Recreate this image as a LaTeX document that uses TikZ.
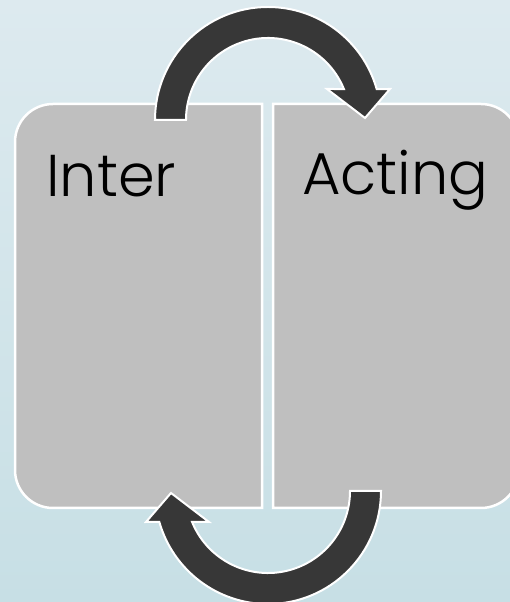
\documentclass[tikz,border=0pt]{standalone}
\usepackage{fontspec}
\setmainfont{Poppins}[UprightFont=* Light]
\usepackage{xcolor}
\usepackage{tikz}
\usetikzlibrary{calc}
\definecolor{skytop}{RGB}{221,234,239}
\definecolor{skybot}{RGB}{199,223,229}
\definecolor{boxgray}{RGB}{191,191,191}
\definecolor{arrowgray}{RGB}{55,55,55}

\begin{document}
\begin{tikzpicture}[x=1pt,y=1pt,
    box/.style={fill=boxgray,draw=white,line width=2.5pt},
    bigarrow/.style={fill=arrowgray,draw=white,line width=2pt,line join=miter},
    word/.style={anchor=base west,inner sep=0pt,font=\fontsize{59}{59}\selectfont}]
  \shade[top color=skytop,bottom color=skybot] (0,0) rectangle (510,602);
  \useasboundingbox (0,0) rectangle (510,602);
  \clip (0,0) rectangle (510,602);

  % the two halves
  \draw[box] (262,498) -- (53,498) arc[start angle=90,end angle=180,radius=38]
        -- (15,132) arc[start angle=180,end angle=270,radius=38] -- (262,94) -- cycle;
  \draw[box] (273,94) -- (481,94) arc[start angle=270,end angle=360,radius=38]
        -- (519,460) arc[start angle=0,end angle=90,radius=38] -- (273,498) -- cycle;

  \node[word] (inter)  at (46,405)  {Inter};
  \node[word] (acting) at (302,407) {Acting};

  % circular arrows, the lower one is the upper one turned round
  \foreach \turn in {0,180}
    \draw[bigarrow,rotate around={\turn:(268,296.5)}]
      (155,482) arc[start angle=180,end angle=15.9,radius=113]
      -- (390,513) -- (365,484) -- (327,513)
      -- ($(268,482)+(22.2:82)$) arc[start angle=22.2,end angle=180,radius=82] -- cycle;
\end{tikzpicture}
\end{document}
